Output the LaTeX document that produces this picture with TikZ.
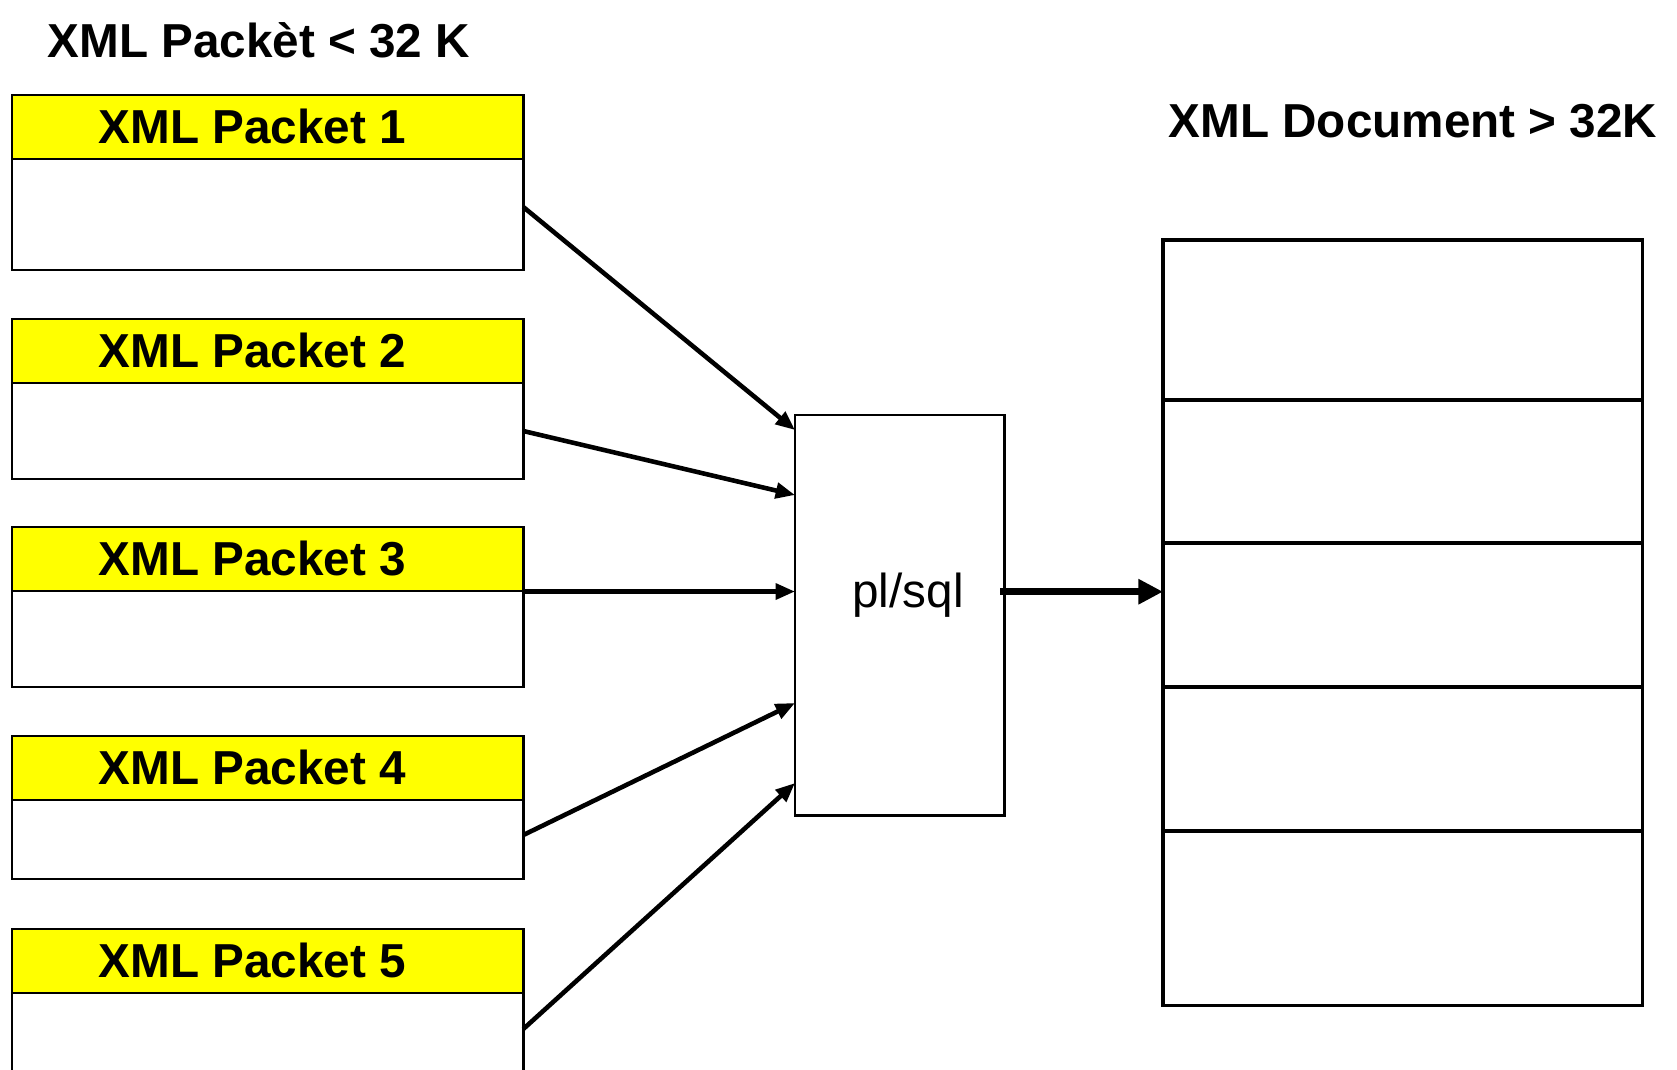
\documentclass[tikz,border=0pt]{standalone}
\usepackage{fontspec}
\setmainfont{Liberation Sans}
\usetikzlibrary{arrows.meta}
\definecolor{hdryellow}{RGB}{255,255,0}
\begin{document}
\begin{tikzpicture}[x=0.01cm,y=-0.01cm,
  box/.style={draw=black,line width=0.8pt,fill=white,rectangle,inner sep=0pt,outer sep=0pt,anchor=north west},
  hdr/.style={box,fill=hdryellow,minimum width=5.11cm,minimum height=0.64cm},
  body/.style={box,minimum width=5.11cm},
  docrow/.style={box,line width=0.9pt,minimum width=4.79cm},
  lbl/.style={font=\fontsize{13.55}{16}\selectfont\bfseries,inner sep=0pt,anchor=base west},
  arr/.style={line width=1.3pt,-{Triangle[length=5.5pt,width=4.4pt]}},
  bigarr/.style={line width=2.1pt,-{Triangle[length=7pt,width=6.8pt]}}]
\useasboundingbox (0,0) rectangle (1677,1069);
\clip (0,0) rectangle (1677,1069);
\fill[white] (0,0) rectangle (1677,1069);

% titles
\node[lbl] (t1) at (47,57) {XML Packèt < 32 K};
\node[lbl] (t2) at (1168,137) {XML Document > 32K};

% packets
\node[body,minimum height=1.11cm] (p1b) at (12,159) {};
\node[hdr] (p1h) at (12,95) {};
\node[lbl] (p1t) at (98,143) {XML Packet 1};

\node[body,minimum height=0.96cm] (p2b) at (12,383) {};
\node[hdr] (p2h) at (12,319) {};
\node[lbl] (p2t) at (98,367) {XML Packet 2};

\node[body,minimum height=0.96cm] (p3b) at (12,591) {};
\node[hdr] (p3h) at (12,527) {};
\node[lbl] (p3t) at (98,575) {XML Packet 3};

\node[body,minimum height=0.79cm] (p4b) at (12,800) {};
\node[hdr] (p4h) at (12,736) {};
\node[lbl] (p4t) at (98,784) {XML Packet 4};

\node[body,minimum height=1.0cm] (p5b) at (12,993) {};
\node[hdr] (p5h) at (12,929) {};
\node[lbl] (p5t) at (98,977) {XML Packet 5};

% pl/sql
\node[box,minimum width=2.09cm,minimum height=4.00cm] (plsql) at (795,415) {};
\node[font=\fontsize{13.55}{16}\selectfont,inner sep=0pt,anchor=base] (plt) at (908,607) {pl/sql};

% document
\node[docrow,minimum height=1.60cm] (d1) at (1163,240) {};
\node[docrow,minimum height=1.43cm] (d2) at (1163,400) {};
\node[docrow,minimum height=1.44cm] (d3) at (1163,543) {};
\node[docrow,minimum height=1.44cm] (d4) at (1163,687) {};
\node[docrow,minimum height=1.74cm] (d5) at (1163,831) {};

% connectors
\draw[arr] (p1b.east |- 0,207) -- (plsql.west |- 0,430);
\draw[arr] (p2b.east |- 0,431) -- (plsql.west |- 0,495);
\draw[arr] (p3b.east |- 0,591.5) -- (plsql.west |- 0,591.5);
\draw[arr] (p4b.east |- 0,835) -- (plsql.west |- 0,703);
\draw[arr] (p5b.east |- 0,1029) -- (plsql.west |- 0,783);
\draw[bigarr] ([xshift=-0.04cm]plsql.east |- 0,591.7) -- (d3.west |- 0,591.7);
\end{tikzpicture}
\end{document}
